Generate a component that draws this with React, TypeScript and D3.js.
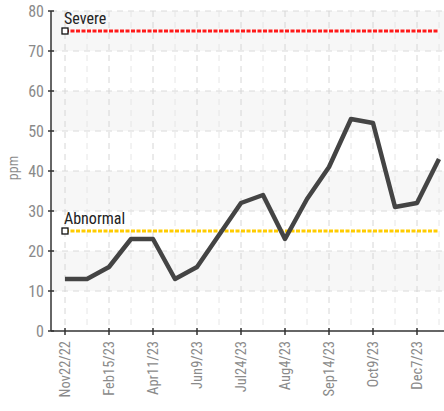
import React from "react";
import * as d3 from "d3";

const values: number[] = [13, 13, 16, 23, 23, 13, 16, 24, 32, 34, 23, 33, 41, 53, 52, 31, 32, 43];
const tickLabels: string[] = ["Nov22/22", "Feb15/23", "Apr11/23", "Jun9/23", "Jul24/23", "Aug4/23", "Sep14/23", "Oct9/23", "Dec7/23"];
const yTicks: number[] = [0, 10, 20, 30, 40, 50, 60, 70, 80];
const thresholdNames: string[] = ["Severe", "Abnormal"];
const thresholdValues: number[] = [75, 25];
const thresholdColors: string[] = ["#ff1a1a", "#ffcc00"];

const W = 444, H = 411;
const left = 51, top = 11, bottom = 331, right = 444;
const FONT = "'Roboto Condensed', 'Liberation Sans Narrow', 'DejaVu Sans Condensed', Roboto, sans-serif";

export default function App() {
  const x = d3.scaleLinear().domain([0, values.length - 1]).range([65, 439]);
  const y = d3.scaleLinear().domain([0, 80]).range([bottom, top]);
  const line = d3.line<number>().x((_, i) => x(i)).y((d) => y(d));
  const bands = d3.range(0, 80, 10);
  return (
    <svg width={W} height={H} style={{ position: "fixed", left: 0, top: 0, background: "#fff" }} fontFamily={FONT}>
      {bands.map((b, i) => (
        <rect key={b} x={left} width={right - left} y={y(b + 10)} height={y(b) - y(b + 10)} fill={i % 2 === 1 ? "#f7f7f7" : "#ffffff"} />
      ))}
      {yTicks.slice(1).map((t) => (
        <line key={t} x1={left} x2={right} y1={y(t)} y2={y(t)} stroke="#dadada" strokeDasharray="6,5" />
      ))}
      {values.map((_, i) => (
        <line key={i} x1={x(i)} x2={x(i)} y1={top} y2={bottom} stroke={i % 2 === 0 ? "#d6d6d6" : "#e6e6e6"} strokeDasharray="6,5" />
      ))}
      {thresholdValues.map((v, i) => (
        <g key={i}>
          <line x1={x(0)} x2={x(values.length - 1)} y1={y(v)} y2={y(v)} stroke={thresholdColors[i]} strokeWidth={3} strokeDasharray="4,1.5" />
          <rect x={x(0) - 3} y={y(v) - 3} width={6} height={6} fill="#fff" stroke="#111" strokeWidth={1.3} />
          <text x={x(0) - 1} y={y(v) - 7} fontSize={16} fill="#222">{thresholdNames[i]}</text>
        </g>
      ))}
      <path d={line(values) || ""} fill="none" stroke="#444" strokeWidth={4.5} strokeLinejoin="round" />
      <line x1={left} x2={left} y1={top} y2={bottom} stroke="#333" strokeWidth={1.5} />
      <line x1={left} x2={right} y1={bottom} y2={bottom} stroke="#333" strokeWidth={1.5} />
      {yTicks.map((t) => (
        <g key={t}>
          <line x1={left - 3} x2={left + 3} y1={y(t)} y2={y(t)} stroke="#333" strokeWidth={1.5} />
          <text x={44} y={y(t)} dy="0.35em" textAnchor="end" fontSize={16} fill="#8a8a8a">{t}</text>
        </g>
      ))}
      {tickLabels.map((lab, k) => {
        const xi = x(k * 2);
        return (
          <g key={lab}>
            <line x1={xi} x2={xi} y1={bottom - 3} y2={bottom + 4} stroke="#333" strokeWidth={1.5} />
            <text transform={`translate(${xi},${bottom + 10}) rotate(-90)`} textAnchor="end" dy="0.35em" fontSize={14.5} fill="#8a8a8a">{lab}</text>
          </g>
        );
      })}
      <text transform={`translate(18,168) rotate(-90)`} textAnchor="middle" fontSize={14} fill="#8a8a8a">ppm</text>
    </svg>
  );
}
